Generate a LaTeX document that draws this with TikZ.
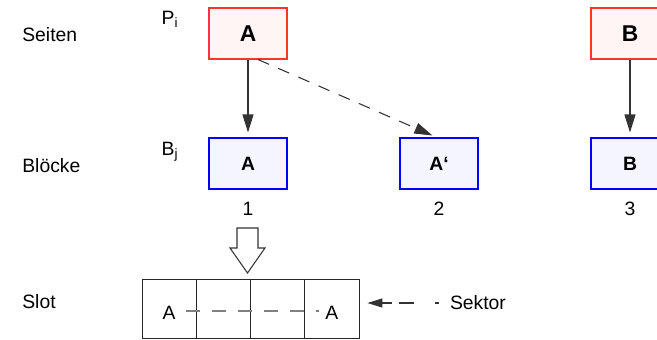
\documentclass[tikz,border=0pt]{standalone}
\usepackage{fontspec}
\setmainfont{Liberation Sans}
\usepackage{tikz}
\usetikzlibrary{arrows.meta}
\tikzset{>={Triangle[length=3.6mm,width=2.2mm]}}
\tikzset{%
    seite/.style={draw=red!80, fill=red!4, line width=0.6pt,
        minimum width=1.56cm, minimum height=1.02cm,
        font=\bfseries\fontsize{13}{15}\selectfont},
    block/.style={draw=blue, fill=blue!4, line width=0.6pt,
        minimum width=1.56cm, minimum height=1.02cm,
        font=\bfseries\fontsize{11}{13}\selectfont},
    sektorbox/.style={draw=black!85, line width=0.45pt, inner sep=0pt,
        minimum width=1.085cm, minimum height=1.18cm},
    rowlabel/.style={anchor=west, inner sep=0pt},
    conn/.style={draw=black!80, line width=0.6pt}
}

\begin{document}
\begin{tikzpicture}[x=0.02cm, y=-0.02cm, font=\fontsize{11}{13}\selectfont]
    \useasboundingbox (0,0) rectangle (657,339);
    % row labels
    \node[rowlabel] (seiten) at (22,35) {Seiten};
    \node[rowlabel] (bloecke) at (22,166) {Blöcke};
    \node[rowlabel] (slotlabel) at (22,302) {Slot};
    \node (pi) at (170,19) {P\textsubscript{i}};
    \node (bj) at (170,152) {B\textsubscript{j}};
    % pages and blocks
    \node[seite] (pa) at (248,33.5) {A};
    \node[seite] (pb) at (630,33.5) {B};
    \node[block] (ba) at (248,163.5) {A};
    \node[block] (bas) at (439,163.5) {A‘};
    \node[block] (bb) at (630,163.5) {B};
    \foreach \b/\n in {ba/1,bas/2,bb/3}
        \node[anchor=north] (num\n) at ([yshift=-0.12cm]\b.south) {\n};
    \draw[->,conn,shorten >=0.1cm] (pa) -- (ba);
    \draw[->,conn,shorten >=0.1cm] (pb) -- (bb);
    \draw[->,conn,dash pattern=on 0.24cm off 0.2cm,shorten >=0.1cm]
        ([xshift=0.2cm]pa.south) -- ([xshift=-0.04cm]bas.north);
    % hollow arrow to the slot
    \draw[conn, fill=white] (237,228) -- (258,228) -- (258,248) -- (265,248)
        -- (247.5,273) -- (230,248) -- (237,248) -- cycle;
    % slot with four sectors
    \foreach \i in {1,...,4} {
        \pgfmathsetmacro{\cx}{142+54.25*\i-27.125}
        \node[sektorbox] (s\i) at (\cx,308.5) {};
    }
    \node (sa1) at ([yshift=-0.09cm]s1.center) {A};
    \node (sa4) at ([yshift=-0.09cm]s4.center) {A};
    \draw[gray, line width=0.6pt, dash pattern=on 0.28cm off 0.24cm, dash phase=0.44cm]
        ([yshift=0.04cm]sa1.east) -- ([yshift=0.04cm]sa4.west);
    \node (sektor) at (478,303) {Sektor};
    \draw[<-,conn,>={Triangle[length=3mm,width=1.8mm]},shorten <=0.16cm,
        dash pattern=on 0.2cm off 0.14cm on 0.3cm off 0.42cm on 0.08cm off 1cm]
        (sektor.west -| s4.east) -- (sektor.west);
\end{tikzpicture}
\end{document}
